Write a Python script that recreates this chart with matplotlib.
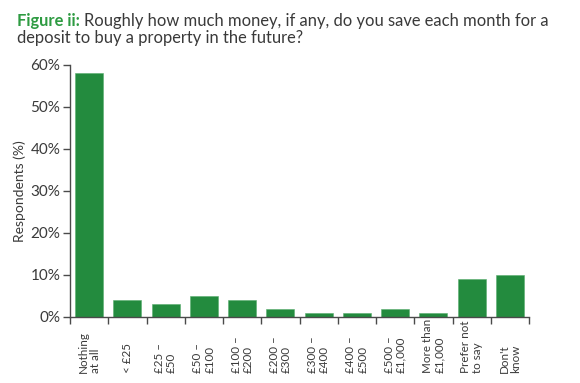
import matplotlib
matplotlib.use("Agg")
import matplotlib.pyplot as plt
import numpy as np

categories = ["Nothing\nat all", "< £25", "£25 –\n£50", "£50 –\n£100", "£100 –\n£200",
              "£200 –\n£300", "£300 –\n£400", "£400 –\n£500", "£500 –\n£1,000",
              "More than\n£1,000", "Prefer not\nto say", "Don't\nknow"]
values = [58, 4, 3, 5, 4, 2, 1, 1, 2, 1, 9, 10]
yticks = [0, 10, 20, 30, 40, 50, 60]
ytick_labels = ["0%", "10%", "20%", "30%", "40%", "50%", "60%"]

FONT = "Lato"
plt.rcParams["font.family"] = [FONT, "DejaVu Sans"]
TEXT = "#3a3a3a"
GREEN = "#238b3e"
SPINE = "#4a4a4a"

fig = plt.figure(figsize=(5.8, 3.83), dpi=100)
ax = fig.add_axes([70/580, (383-317)/383, (529-70)/580, (317-65)/383])

x = np.arange(len(categories))
ax.bar(x, values, width=0.73, color=GREEN, edgecolor="#5aae6e", linewidth=0.4, zorder=2)

ax.set_xlim(-0.5, len(categories) - 0.5)
ax.set_ylim(0, 60)
ax.set_yticks(yticks)
ax.set_yticklabels(ytick_labels)

ax.set_xticks(x)
ax.set_xticklabels(categories, rotation=90, va="bottom", ha="center",
                   multialignment="left", fontsize=8.4, color=TEXT,
                   linespacing=1.1)
ax.set_xticks(np.arange(len(categories) + 1) - 0.5, minor=True)
ax.tick_params(axis="x", which="major", length=0, pad=40)
ax.tick_params(axis="x", which="minor", length=5, width=1, color=SPINE, direction="out")
ax.tick_params(axis="y", length=5, width=1, color=SPINE, labelsize=11, labelcolor=TEXT, pad=2)

for s in ["top", "right"]:
    ax.spines[s].set_visible(False)
for s in ["left", "bottom"]:
    ax.spines[s].set_color(SPINE)
    ax.spines[s].set_linewidth(1)

ax.set_ylabel("Respondents (%)", fontsize=10, color=TEXT, labelpad=3)

# Title
TS = 11.9
fig.text(17/580, 1 - 26/383, "Figure ii:", fontsize=TS, fontweight="bold",
         color="#2e9b42", ha="left", va="baseline")
fig.canvas.draw()
t = fig.texts[0]
bb = t.get_window_extent()
fig.text((bb.x1 + 4) / 580, 1 - 26/383,
         "Roughly how much money, if any, do you save each month for a",
         fontsize=TS, color=TEXT, ha="left", va="baseline")
fig.text(17/580, 1 - 43/383, "deposit to buy a property in the future?",
         fontsize=TS, color=TEXT, ha="left", va="baseline")

fig.savefig("out.png", dpi=100)
